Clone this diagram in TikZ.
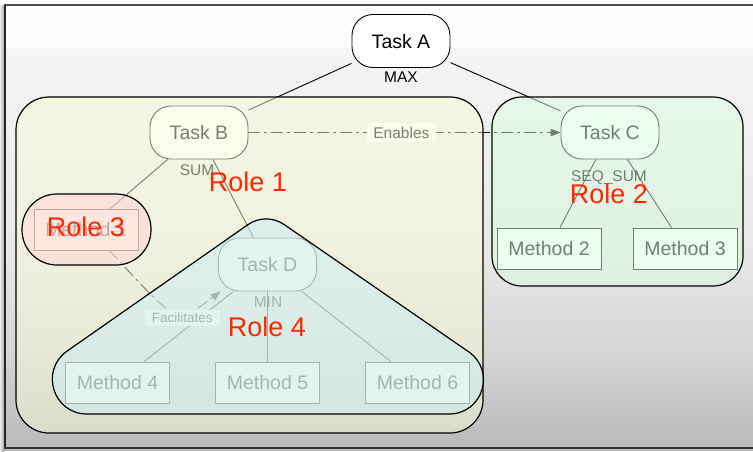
\documentclass[tikz,border=0pt]{standalone}
\usepackage{fontspec}
\setmainfont{Liberation Sans}
\usetikzlibrary{arrows.meta,calc}

% palette
\definecolor{roleone}{HTML}{FAFAD8}
\definecolor{roletwo}{HTML}{DCFCE2}
\definecolor{rolethree}{HTML}{FFD4D6}
\definecolor{rolefour}{HTML}{CCEEF6}
\definecolor{rolered}{RGB}{255,38,0}
\definecolor{bgtop}{HTML}{FDFDFD}
\definecolor{bgA}{HTML}{F5F5F5}
\definecolor{bgC}{HTML}{E8E8E8}
\definecolor{bgD}{HTML}{D6D6D6}
\definecolor{bgE}{HTML}{BABABA}

\tikzset{
  task/.style={draw=black, fill=white, rounded corners=21pt, line width=0.9pt,
    minimum width=98pt, minimum height=53pt, inner sep=0pt,
    font=\fontsize{19.5}{22}\selectfont, text height=14pt, text depth=0pt},
  method/.style={draw=black, fill=white, line width=0.9pt,
    minimum width=104pt, minimum height=41pt, inner sep=0pt,
    font=\fontsize{19.5}{22}\selectfont, text height=14pt, text depth=0pt},
  note/.style={inner sep=0pt, font=\fontsize{15.5}{18}\selectfont,
    text height=11pt, text depth=0pt},
  tag/.style={fill=white, inner xsep=6.5pt, inner ysep=4pt,
    font=\fontsize{15.5}{18}\selectfont, text height=11pt, text depth=0pt},
  smalltag/.style={fill=white, inner xsep=7pt, inner ysep=3.5pt,
    font=\fontsize{13.5}{16}\selectfont, text height=9.7pt, text depth=0pt},
  rolelabel/.style={inner sep=0pt, text=rolered,
    font=\fontsize{27}{30}\selectfont, text height=19.5pt, text depth=0pt},
  link/.style={draw=black, line width=0.9pt},
  flow/.style={link, dash pattern=on 12pt off 4pt on 3pt off 4pt,
    -{Triangle[length=10pt,width=7.5pt]}},
  container/.style={draw=black, line width=1.2pt, fill opacity=0.5},
}

\begin{document}
\begin{tikzpicture}[x=1pt,y=-1pt]
\useasboundingbox (0,0) rectangle (753,451);

% window frame and backdrop, light at the top and darker towards the bottom
\fill[black!28] (0,0) rectangle (753,451);
\fill[white] (0,0) rectangle (753,5);
\shade[left color=black!8, right color=black!38] (0,5) rectangle (4.5,451);
\fill[bgtop] (5,6) rectangle (753,48.5);
\shade[top color=bgA, bottom color=bgC] (5,48) rectangle (753,250.5);
\shade[top color=bgC, bottom color=bgD] (5,250) rectangle (753,350.5);
\shade[top color=bgD, bottom color=bgE] (5,350) rectangle (753,447);
\draw[line width=2pt, black!70] (4,5) -- (753,5);
\draw[line width=1.5pt, black!85] (4.75,5) -- (4.75,448);
\draw[line width=1.5pt, black!80] (4,448) -- (753,448);

% tasks and methods
\node[task] (A) at (401,41) {Task A};
\node[task] (B) at (199,132.5) {Task B};
\node[task] (C) at (610,132.5) {Task C};
\node[task] (D) at (267.5,264.5) {Task D};
\node[method] (M1) at (86,229.5) {Method 1};
\node[method] (M2) at (549,248.5) {Method 2};
\node[method] (M3) at (685,248.5) {Method 3};
\node[method] (M4) at (117.5,382.5) {Method 4};
\node[method] (M5) at (267.5,382.5) {Method 5};
\node[method] (M6) at (417.5,382.5) {Method 6};

% aggregation rules
\node[note] (maxA) at (401,77) {MAX};
\node[note] (sumB) at (197,170) {SUM};
\node[note] (seqC) at (609,176) {SEQ\_SUM};
\node[note] (minD) at (268,302) {MIN};

% decomposition edges
\draw[link] (A) -- (B);
\draw[link] (A) -- (C);
\draw[link] (B) -- (M1);
\draw[link] (B) -- (D);
\draw[link] (C) -- (M2);
\draw[link] (C) -- (M3);
\draw[link] (D) -- (M4);
\draw[link] (D) -- (M5);
\draw[link] (D) -- (M6);

% inter-task relations
\draw[flow] (B.east) -- (C.west) node[tag, pos=0.49] (enab) {Enables};
\draw[flow] (M1.-42) .. controls (177,323) and (174.8,325.6) .. (D.-150)
  node[smalltag, pos=0.5, xshift=9pt, yshift=-7pt] (facil) {Facilitates};

% roles as translucent regions
\draw[container, fill=roleone, rounded corners=33pt] (16,97) rectangle (483,433);
\draw[container, fill=roletwo, rounded corners=30pt] (492,97) rectangle (743,286);
\draw[container, fill=rolethree, rounded corners=35pt] (22,194) rectangle (151,265);
\draw[container, fill=rolefour]
  (87,414) -- (449,414)
  .. controls (482.9,414) and (496.3,370.8) .. (468.4,351.6)
  -- (284.1,224.5)
  .. controls (273.2,217) and (258.8,217) .. (248,224.6)
  -- (67.2,351)
  .. controls (39.4,370.4) and (53.1,414) .. (87,414) -- cycle;

% role names
\node[rolelabel] (r1) at (248,182) {Role 1};
\node[rolelabel] (r2) at (609,194) {Role 2};
\node[rolelabel] (r3) at (86,227) {Role 3};
\node[rolelabel] (r4) at (267,327) {Role 4};
\end{tikzpicture}
\end{document}
